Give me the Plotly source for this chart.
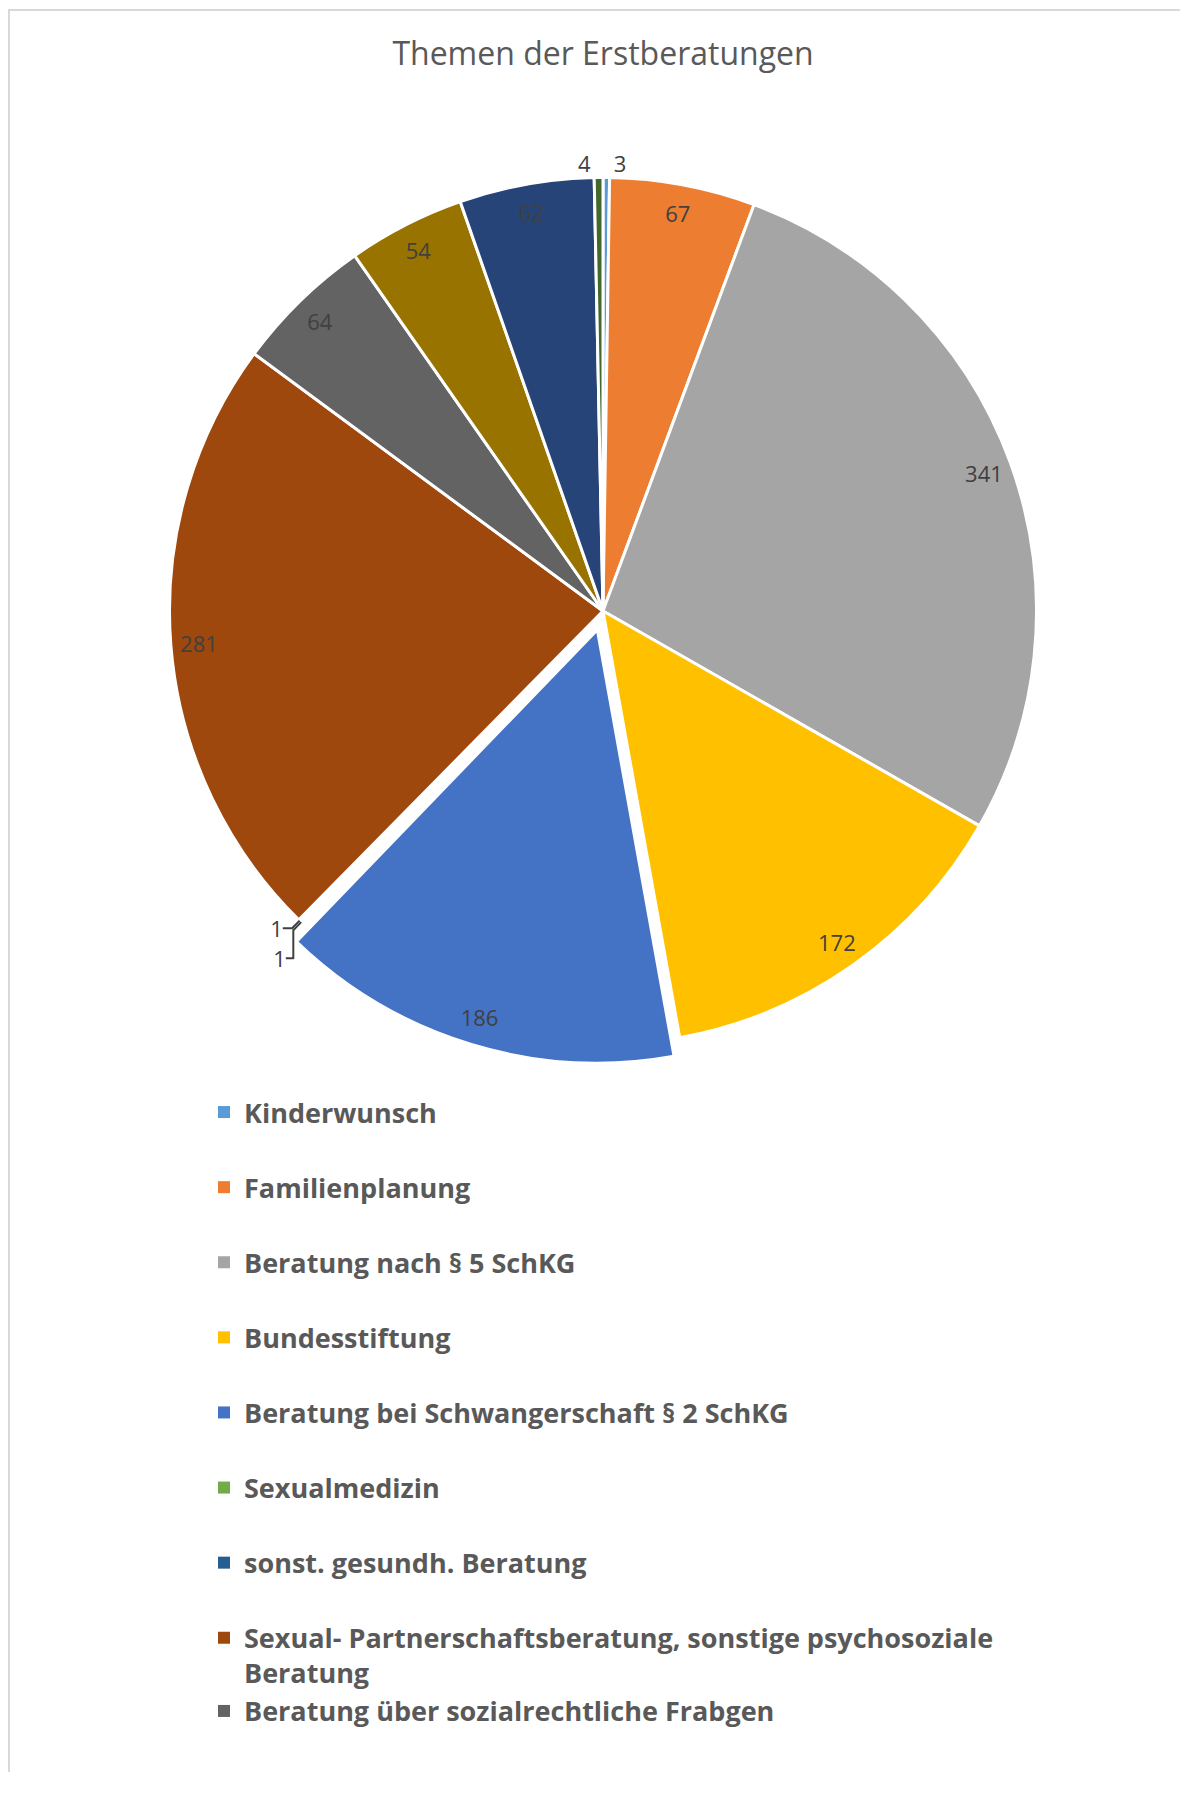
import plotly.graph_objects as go

# ---- data ----
labels = [
    "Kinderwunsch",
    "Familienplanung",
    "Beratung nach § 5 SchKG",
    "Bundesstiftung",
    "Beratung bei Schwangerschaft § 2 SchKG",
    "Sexualmedizin",
    "sonst. gesundh. Beratung",
    "Sexual- Partnerschaftsberatung, sonstige psychosoziale Beratung",
    "Beratung über sozialrechtliche Frabgen",
    "Kategorie 10",
    "Kategorie 11",
    "Kategorie 12",
]
values = [3, 67, 341, 172, 186, 1, 1, 281, 64, 54, 62, 4]
colors = ["#5B9BD5", "#ED7D31", "#A5A5A5", "#FFC000", "#4472C4", "#70AD47",
          "#255E91", "#9E480E", "#636363", "#997300", "#264478", "#43682B"]
pulls = [0, 0, 0, 0, 0.045, 0, 0, 0, 0, 0, 0, 0]
legend_labels = [
    "Kinderwunsch",
    "Familienplanung",
    "Beratung nach § 5 SchKG",
    "Bundesstiftung",
    "Beratung bei Schwangerschaft § 2 SchKG",
    "Sexualmedizin",
    "sonst. gesundh. Beratung",
    "Sexual- Partnerschaftsberatung, sonstige psychosoziale<br>Beratung",
    "Beratung über sozialrechtliche Frabgen",
]
legend_groups = ["g1", "g2", "g3", "g4", "g5", "g6", "g7", "g8", "g8"]

# figure size leaves room for the page's default 8px body margin
W, H = 1172, 1764
OFF = 8


def px(X):
    return (X - OFF) / W


def py(Y):
    return 1 - (Y - OFF) / H


FONT = "Open Sans, sans-serif"

CX, CY, HALF = 603, 611, 453
dom = dict(x=[px(CX - HALF), px(CX + HALF)], y=[py(CY + HALF), py(CY - HALF)])

textpos = ["outside" if v < 10 else "inside" for v in values]

fig = go.Figure()
# coloured slices
fig.add_trace(go.Pie(
    labels=labels, values=values, sort=False, direction="clockwise",
    rotation=0, pull=pulls,
    marker=dict(colors=colors, line=dict(color="white", width=3)),
    textinfo="none", showlegend=False, domain=dom,
    hoverinfo="label+value+percent",
))
# value labels, placed in an outer ring near the rim
fig.add_trace(go.Pie(
    labels=labels, values=values, sort=False, direction="clockwise",
    rotation=0, pull=pulls, hole=0.87,
    marker=dict(colors=["rgba(0,0,0,0)"] * len(values),
                line=dict(color="rgba(0,0,0,0)", width=0)),
    textinfo="value", textposition=textpos,
    insidetextorientation="horizontal",
    textfont=dict(family=FONT, size=22, color="#404040"),
    outsidetextfont=dict(family=FONT, size=22, color="#404040"),
    showlegend=False, domain=dom, hoverinfo="skip",
))

for name, col, grp in zip(legend_labels, colors, legend_groups):
    fig.add_trace(go.Scatter(
        x=[None], y=[None], mode="markers", name=name, legendgroup=grp,
        marker=dict(symbol="square", size=13, color=col),
        hoverinfo="skip",
    ))

fig.add_shape(type="rect", xref="paper", yref="paper",
              x0=1 / W, x1=1.05, y0=-0.05, y1=py(10),
              line=dict(color="#D9D9D9", width=2), fillcolor="rgba(0,0,0,0)",
              layer="below")

fig.update_layout(
    width=W, height=H,
    margin=dict(l=0, r=0, t=0, b=0),
    paper_bgcolor="white", plot_bgcolor="white",
    title=dict(text="Themen der Erstberatungen", x=px(603), xanchor="center",
               y=py(54), yanchor="middle", yref="container",
               font=dict(family=FONT, size=32, color="#595959")),
    xaxis=dict(visible=False), yaxis=dict(visible=False),
    legend=dict(x=px(204), y=py(1088), xanchor="left", yanchor="top",
                font=dict(family=FONT, size=27, color="#595959", weight="bold"),
                tracegroupgap=37, valign="top", bgcolor="rgba(0,0,0,0)",
                itemsizing="constant"),
)

fig.write_html("out.html")
